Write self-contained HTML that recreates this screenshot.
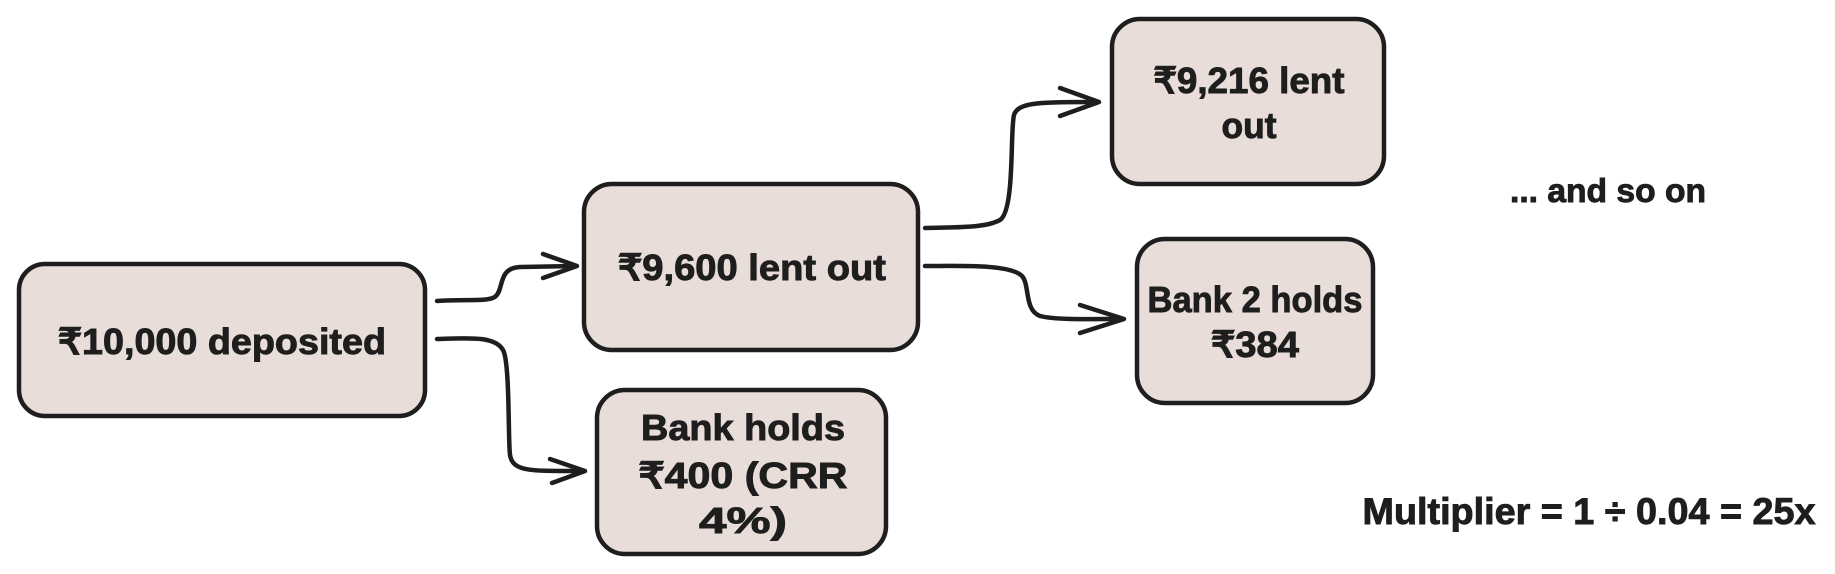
<!DOCTYPE html>
<html><head><meta charset="utf-8"><style>
html,body{margin:0;padding:0;background:#fff;}
svg{display:block;}
text{font-family:"Liberation Sans",sans-serif;font-weight:bold;fill:#1e1e1e;stroke:#1e1e1e;stroke-width:0.9;text-anchor:middle;}
</style></head><body>
<svg width="1835" height="574" viewBox="0 0 1835 574" xmlns="http://www.w3.org/2000/svg">
<g fill="#e8ddd8" stroke="#1e1e1e" stroke-width="4.5">
<rect x="19" y="264" width="406" height="152" rx="26"/>
<rect x="584" y="184" width="334" height="166" rx="28"/>
<rect x="597" y="390" width="289" height="164" rx="28"/>
<rect x="1112" y="19" width="272" height="165" rx="28"/>
<rect x="1137" y="239" width="236" height="164" rx="28"/>
</g>
<g fill="none" stroke="#1e1e1e" stroke-width="4.5" stroke-linecap="round" stroke-linejoin="round">
<path d="M437 301 C470 299 490 302 496 296 C504 288 498 268 520 267 L576 266"/>
<path d="M543 254 L577 266 L543 278"/>
<path d="M437 339 C470 338 495 336 503 350 C510 362 508 440 510 455 C513 472 530 471 584 471"/>
<path d="M550 459 L585 471 L552 483"/>
<path d="M925 228 C960 227 985 228 1000 220 C1015 210 1010 130 1014 115 C1018 102 1040 102 1098 102"/>
<path d="M1060 88 L1099 102 L1060 116"/>
<path d="M925 266 C960 266 1010 264 1022 276 C1030 285 1024 310 1040 316 C1055 320 1090 319 1123 319"/>
<path d="M1080 305 L1124 319 L1080 333"/>
</g>
<g font-size="36">
<text x="222" y="354" textLength="328" lengthAdjust="spacingAndGlyphs">₹10,000 deposited</text>
<text x="752" y="280" textLength="268" lengthAdjust="spacingAndGlyphs">₹9,600 lent out</text>
<text x="743" y="440" textLength="204" lengthAdjust="spacingAndGlyphs">Bank holds</text>
<text x="743" y="488" textLength="209" lengthAdjust="spacingAndGlyphs">₹400 (CRR</text>
<text x="743" y="533" textLength="88" lengthAdjust="spacingAndGlyphs">4%)</text>
<text x="1249" y="93" textLength="191" lengthAdjust="spacingAndGlyphs">₹9,216 lent</text>
<text x="1249" y="138" textLength="55" lengthAdjust="spacingAndGlyphs">out</text>
<text x="1255" y="312" textLength="215" lengthAdjust="spacingAndGlyphs">Bank 2 holds</text>
<text x="1255" y="357" textLength="88" lengthAdjust="spacingAndGlyphs">₹384</text>
<text x="1608" y="202" font-size="33" textLength="196" lengthAdjust="spacingAndGlyphs">... and so on</text>
<text x="1589" y="524" font-size="37" textLength="453" lengthAdjust="spacingAndGlyphs">Multiplier = 1 ÷ 0.04 = 25x</text>
</g>
</svg>
</body></html>
